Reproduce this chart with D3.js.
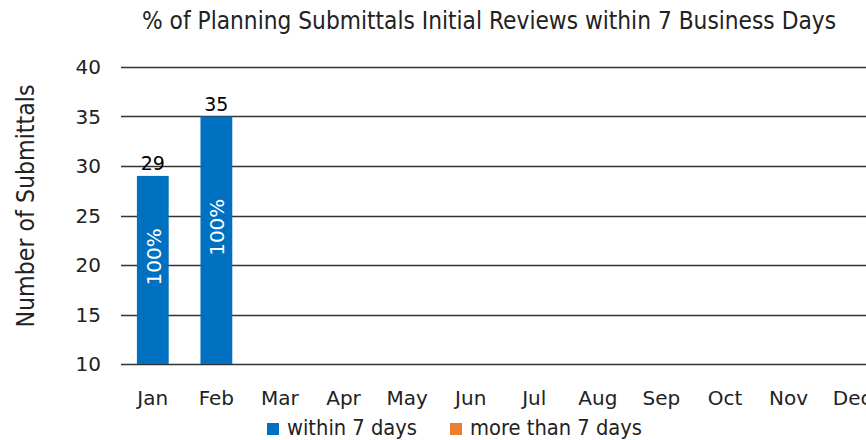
<!DOCTYPE html>
<html>
<head>
<meta charset="utf-8">
<script src="https://cdn.jsdelivr.net/npm/d3@7"></script>
<style>
  body { margin: 0; background: #fff; }
  text { font-family: "DejaVu Sans", sans-serif; }
</style>
</head>
<body>
<div class="canvas"></div>
<script>
const months = ['Jan', 'Feb', 'Mar', 'Apr', 'May', 'Jun', 'Jul', 'Aug', 'Sep', 'Oct', 'Nov', 'Dec'];
const within = [29, 35, null, null, null, null, null, null, null, null, null, null];
const moreThan = [0, 0, null, null, null, null, null, null, null, null, null, null];
const pctLabels = ['100%', '100%', '', '', '', '', '', '', '', '', '', ''];
const yTicks = [10, 15, 20, 25, 30, 35, 40];
const seriesNames = ['within 7 days', 'more than 7 days'];
const colours = ['#0070c0', '#ed7d31'];

const dims = { width: 866, height: 440 };
const plot = { left: 121, right: 884, top: 67, bottom: 364 };

const svg = d3.select('.canvas')
    .append('svg')
    .attr('width', dims.width)
    .attr('height', dims.height);

const x = d3.scaleBand()
    .domain(months)
    .range([plot.left, plot.right])
    .paddingInner(0.5)
    .paddingOuter(0.25);

const y = d3.scaleLinear()
    .domain([10, 40])
    .range([plot.bottom, plot.top]);

// gridlines
svg.append('g')
    .selectAll('line')
    .data(yTicks)
    .enter()
    .append('line')
    .attr('x1', plot.left)
    .attr('x2', dims.width)
    .attr('y1', d => Math.round(y(d)) + 0.5)
    .attr('y2', d => Math.round(y(d)) + 0.5)
    .attr('stroke', '#333')
    .attr('stroke-width', 1.4);

// y tick labels
svg.append('g')
    .selectAll('text')
    .data(yTicks)
    .enter()
    .append('text')
    .attr('x', 101)
    .attr('y', d => y(d) + 7)
    .attr('text-anchor', 'end')
    .attr('font-size', 20)
    .attr('fill', '#222')
    .text(d => d);

// stacked data
const rows = months.map((m, i) => ({ month: m, within: within[i], more: moreThan[i], pct: pctLabels[i] }));
const stack = d3.stack().keys(['within', 'more']).value((d, k) => d[k] || 0);
const layers = stack(rows);

svg.append('g')
    .selectAll('g')
    .data(layers)
    .enter()
    .append('g')
    .attr('fill', (d, i) => colours[i])
    .selectAll('rect')
    .data(d => d)
    .enter()
    .append('rect')
    .attr('x', d => x(d.data.month))
    .attr('width', x.bandwidth())
    .attr('y', d => y(Math.max(d[1], 10)))
    .attr('height', d => Math.max(0, y(Math.max(d[0], 10)) - y(Math.max(d[1], 10))));

// total labels
svg.append('g')
    .selectAll('text')
    .data(rows.filter(d => d.within != null))
    .enter()
    .append('text')
    .attr('x', d => x(d.month) + x.bandwidth() / 2)
    .attr('y', d => y(d.within + (d.more || 0)) - 6)
    .attr('text-anchor', 'middle')
    .attr('font-size', 19)
    .attr('fill', '#000')
    .text(d => d.within + (d.more || 0));

// percentage labels inside bars
svg.append('g')
    .selectAll('text')
    .data(rows.filter(d => d.pct))
    .enter()
    .append('text')
    .attr('transform', d => {
        const cx = x(d.month) + x.bandwidth() / 2 + 8;
        const cy = (y(10) + y(d.within)) / 2 - 13;
        return `translate(${cx}, ${cy}) rotate(-90)`;
    })
    .attr('text-anchor', 'middle')
    .attr('font-size', 20)
    .attr('fill', '#fff')
    .text(d => d.pct);

// month labels
svg.append('g')
    .selectAll('text')
    .data(months)
    .enter()
    .append('text')
    .attr('x', d => x(d) + x.bandwidth() / 2)
    .attr('y', 405)
    .attr('text-anchor', 'middle')
    .attr('font-size', 20)
    .attr('fill', '#222')
    .text(d => d);

// title
svg.append('text')
    .attr('x', 142)
    .attr('y', 29)
    .attr('font-size', 24)
    .attr('textLength', 694)
    .attr('lengthAdjust', 'spacingAndGlyphs')
    .attr('fill', '#222')
    .text('% of Planning Submittals Initial Reviews within 7 Business Days');

// y axis title
svg.append('text')
    .attr('transform', 'translate(34, 206) rotate(-90)')
    .attr('text-anchor', 'middle')
    .attr('font-size', 24)
    .attr('textLength', 243)
    .attr('lengthAdjust', 'spacingAndGlyphs')
    .attr('fill', '#222')
    .text('Number of Submittals');

// legend
const legendX = [267, 450];
const legendW = [130, 172];
const legend = svg.append('g')
    .selectAll('g')
    .data(seriesNames)
    .enter()
    .append('g')
    .attr('transform', (d, i) => `translate(${legendX[i]}, 420)`);

legend.append('rect')
    .attr('width', 12)
    .attr('height', 12)
    .attr('y', 3)
    .attr('fill', (d, i) => colours[i]);

legend.append('text')
    .attr('x', 20)
    .attr('y', 15)
    .attr('font-size', 21)
    .attr('textLength', (d, i) => legendW[i])
    .attr('lengthAdjust', 'spacingAndGlyphs')
    .attr('fill', '#222')
    .text(d => d);
</script>
</body>
</html>
